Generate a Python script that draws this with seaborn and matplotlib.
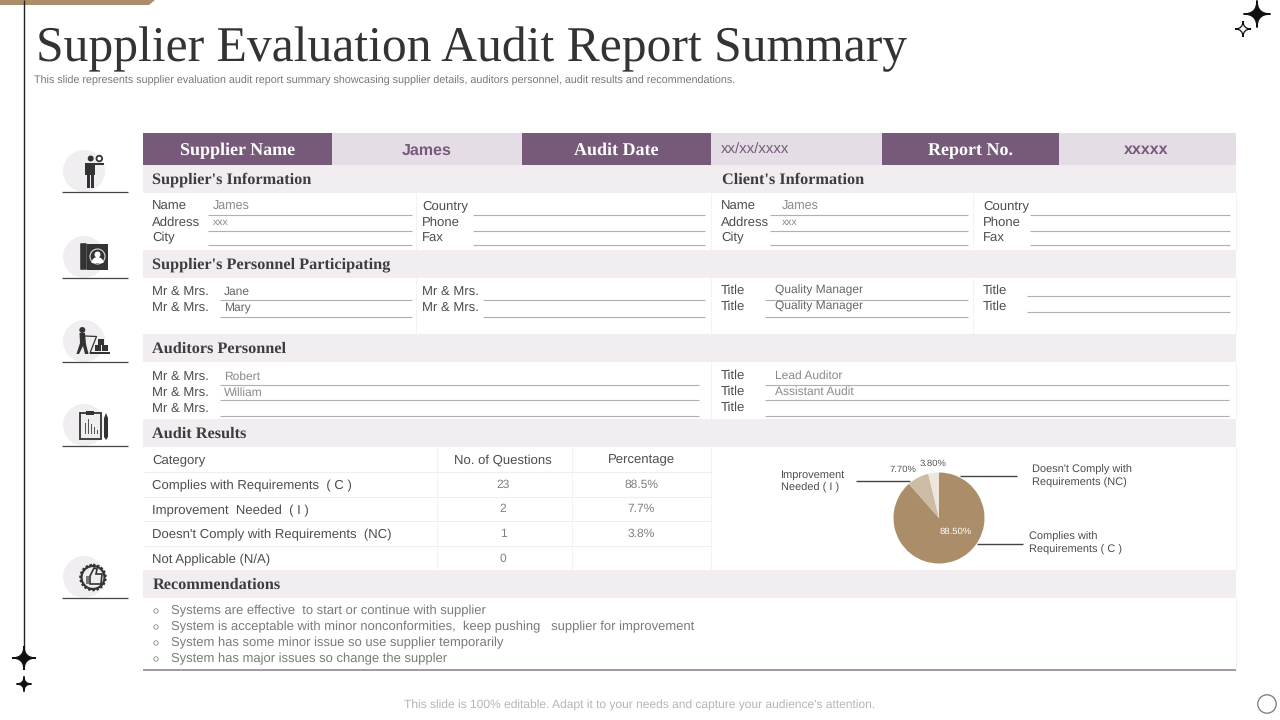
"""
Supplier evaluation audit report slide
"""
import matplotlib
matplotlib.use('Agg')
import matplotlib.pyplot as plt
from matplotlib.patches import Circle, Polygon, Rectangle, PathPatch, FancyBboxPatch, Wedge
from matplotlib.path import Path
import seaborn as sns

# Data
title = 'Supplier Evaluation Audit Report Summary'
subtitle = ('This slide represents supplier evaluation audit report summary showcasing supplier details, '
            'auditors personnel, audit results and recommendations.')
footer = "This slide is 100% editable. Adapt it to your needs and capture your audience's attention."

header_labels = ['Supplier Name', 'Audit Date', 'Report No.']
header_values = ['James', 'xx/xx/xxxx', 'xxxxx']

info_left = ['Name', 'Address', 'City']
info_left_values = ['James', 'xxx', '']
info_right = ['Country', 'Phone', 'Fax']
client_values = ['James', 'xxx', '']
personnel_names = ['Jane', 'Mary']
personnel_titles = ['Quality Manager', 'Quality Manager']
auditor_names = ['Robert', 'William', '']
auditor_titles = ['Lead Auditor', 'Assistant Audit', '']

table_columns = ['Category', 'No. of Questions', 'Percentage']
categories = ['Complies with Requirements  ( C )', 'Improvement  Needed  ( I )',
              "Doesn't Comply with Requirements  (NC)", 'Not Applicable (N/A)']
questions = [23, 2, 1, 0]
percentages = ['88.5%', '7.7%', '3.8%', '']

pie_values = [88.5, 7.7, 3.8]
pie_labels = ['88.50%', '7.70%', '3.80%']

recommendations = [
    'Systems are effective  to start or continue with supplier',
    'System is acceptable with minor nonconformities,  keep pushing   supplier for improvement',
    'System has some minor issue so use supplier temporarily',
    'System has major issues so change the suppler',
]

PURPLE = '#775a7a'
LIGHT = '#e4dde5'
BAND = '#f1edf1'
TAN = '#ab8d69'
DARK = '#333333'
SANS = 'Liberation Sans'
SERIF = 'Liberation Serif'

sns.set_theme(style='white')
plt.rcParams['font.family'] = [SANS, 'DejaVu Sans']
plt.rcParams['text.hinting'] = 'no_hinting'

fig = plt.figure(figsize=(12.8, 7.2), dpi=100)
ax = fig.add_axes([0, 0, 1, 1])
ax.set_xlim(0, 1280)
ax.set_ylim(720, 0)
ax.axis('off')


def px(size):
    # font size given in pixels
    return size * 0.72


def rect(x0, y0, x1, y1, color, z=1):
    ax.add_patch(Rectangle((x0, y0), x1 - x0, y1 - y0, facecolor=color, edgecolor='none', zorder=z))


def hline(x0, x1, y, color='#b0b0b0', lw=0.8):
    ax.plot([x0, x1], [y, y], color=color, lw=lw, solid_capstyle='butt', zorder=2)


def vline(x, y0, y1, color='#f4f2f4', lw=0.8):
    ax.plot([x, x], [y0, y1], color=color, lw=lw, solid_capstyle='butt', zorder=2)


def label(x, y, s, size=13.1, color='#4d4d4d', ha='left', **kw):
    ax.text(x, y + 1.3, s, fontsize=px(size), color=color, ha=ha, va='center', zorder=4, **kw)


def heading(x, y, s):
    ax.text(x, y + 1.5, s, fontsize=px(16.2), color='#3d3d3d', family=SERIF, weight='bold',
            ha='left', va='center', zorder=4)


def dot(x, y, r, color=DARK, z=3):
    ax.add_patch(Circle((x, y), r, facecolor=color, edgecolor='none', zorder=z))


def star(x, y, r, fill=True, color='#111111'):
    verts, codes = [(x, y - r)], [Path.MOVETO]
    for tip in [(x + r, y), (x, y + r), (x - r, y), (x, y - r)]:
        verts += [(x, y), tip]
        codes += [Path.CURVE3, Path.CURVE3]
    ax.add_patch(PathPatch(Path(verts, codes), facecolor=color if fill else 'white',
                           edgecolor=color, lw=0.9, zorder=5))


# Slide decoration
ax.add_patch(Polygon([(0, 0), (155, 0), (149, 5), (0, 5)], facecolor=TAN, edgecolor='none'))
vline(24, 0, 652, color='#222222', lw=1.0)
star(24, 658, 12)
star(24, 684, 7.5)
star(1257, 14, 13.5)
star(1243, 29, 8, fill=False)
ax.add_patch(Circle((1267, 704), 9.2, facecolor='white', edgecolor='#777777', lw=0.9))

ax.text(36, 49, title, fontsize=px(49.6), color=DARK, family=SERIF, ha='left', va='center')
label(34, 80, subtitle, size=10.7, color='#777777')
label(640, 704, footer, size=12.05, color='#b5b5b5', ha='center')

# Header row
cell_edges = [143, 332, 522, 711, 882, 1059, 1236]
for i in range(3):
    rect(cell_edges[2 * i], 133, cell_edges[2 * i + 1], 165, PURPLE)
    rect(cell_edges[2 * i + 1], 133, cell_edges[2 * i + 2], 165, LIGHT)
    ax.text((cell_edges[2 * i] + cell_edges[2 * i + 1]) / 2, 150.5, header_labels[i], fontsize=px(18),
            color='white', family=SERIF, weight='bold', ha='center', va='center', zorder=4)
label(427, 149, header_values[0], size=16, color=PURPLE, ha='center', weight='bold')
label(721, 149, header_values[1], size=15, color=PURPLE)
label(1146, 149, header_values[2], size=16, color=PURPLE, ha='center', weight='bold')

# Section bands
for y0, y1 in [(165, 193), (250, 278), (334, 362), (419, 447), (570, 598)]:
    rect(143, y0, 1236, y1, BAND)
heading(152.5, 178, "Supplier's Information")
heading(722, 178, "Client's Information")
heading(152.5, 263, "Supplier's Personnel Participating")
heading(152.5, 347, 'Auditors Personnel')
heading(152.5, 432, 'Audit Results')
heading(152.5, 583, 'Recommendations')

# Faint table grid, only between the bands
for y0, y1 in [(193, 250), (278, 334), (362, 419), (447, 570)]:
    vline(711, y0, y1)
for y0, y1 in [(193, 250), (278, 334)]:
    vline(416, y0, y1)
    vline(973, y0, y1)
for y0, y1 in [(193, 250), (278, 334), (362, 419), (447, 570), (598, 669)]:
    vline(1236, y0, y1)

# Supplier / client information
rows = [205, 221, 237]
lines = [214.5, 230.5, 245]
for i in range(3):
    label(152, rows[i], info_left[i])
    label(422, rows[i], info_right[i])
    label(721, rows[i], info_left[i])
    label(983, rows[i], info_right[i])
    hline(208, 412, lines[i])
    hline(473, 705, lines[i])
    hline(770, 968, lines[i])
    hline(1030, 1230, lines[i])
    label(213, rows[i], info_left_values[i], size=12.5 if i == 0 else 10.5, color='#8a8a8a')
    label(782, rows[i], client_values[i], size=12.5 if i == 0 else 10.5, color='#8a8a8a')

# Supplier's personnel
rows = [290, 306]
for i in range(2):
    label(152, rows[i], 'Mr & Mrs.')
    label(422, rows[i], 'Mr & Mrs.')
    label(721, rows[i] - 1, 'Title')
    label(983, rows[i] - 1, 'Title')
    hline(220, 412, [299.5, 316.5][i])
    hline(483, 705, [299.5, 316.5][i])
    hline(765, 968, [299.5, 316.5][i])
    hline(1027, 1230, [295.5, 312][i])
    label(224, rows[i], personnel_names[i], size=12, color='#666666')
    label(775, rows[i] - 1, personnel_titles[i], size=12, color='#666666')

# Auditors
rows = [375, 391, 407]
for i in range(3):
    label(152, rows[i], 'Mr & Mrs.')
    label(721, rows[i] - 1, 'Title')
    hline(220, 699, [385, 400, 415.5][i])
    hline(765, 1229, [384.5, 400, 415.5][i])
    label(224, rows[i], auditor_names[i], size=12, color='#8a8a8a')
    label(775, rows[i] - 1, auditor_titles[i], size=12, color='#8a8a8a')

# Audit results table
row_edges = [447, 472, 497, 521, 546, 570]
for y in row_edges[1:-1]:
    hline(143, 711, y, color='#f0edf0', lw=0.8)
vline(437, 447, 570)
vline(572, 447, 570)
label(152, 459, table_columns[0])
label(503, 459, table_columns[1], ha='center')
label(641, 459, table_columns[2], ha='center')
for i in range(4):
    y = (row_edges[i + 1] + row_edges[i + 2]) / 2 + 0.5
    label(152, y, categories[i])
    label(503, y - 1.5, str(questions[i]), size=12, color='#808080', ha='center')
    label(641, y - 1.5, percentages[i], size=12, color='#808080', ha='center')

# Pie chart, in its own axes
pie_ax = fig.add_axes([(939 - 45.5) / 1280, 1 - (518 + 45.5) / 720, 91 / 1280, 91 / 720])
wedges, _ = pie_ax.pie(pie_values, colors=sns.color_palette([TAN, '#cdbba6', '#ede6dd']),
                       startangle=90, counterclock=False, radius=1.0,
                       wedgeprops={'linewidth': 0})
pie_ax.set_xlim(-1, 1)
pie_ax.set_ylim(-1, 1)
label(956, 530, pie_labels[0], size=9.5, color='white', ha='center')
label(903, 468, pie_labels[1], size=9.5, ha='center', color='#555555')
label(933, 462.5, pie_labels[2], size=9.5, ha='center', color='#555555')
ax.set_zorder(3)
ax.patch.set_alpha(0)
hline(856, 910, 481, color='#444444', lw=1)
hline(960, 1017, 476, color='#444444', lw=1)
hline(977, 1023, 544, color='#444444', lw=1)
label(781, 473.5, 'Improvement', size=11)
label(781, 486.5, 'Needed ( I )', size=11)
label(1032, 468.5, "Doesn't Comply with", size=11)
label(1032, 481.5, 'Requirements (NC)', size=11)
label(1029, 535.5, 'Complies with', size=11)
label(1029, 548.5, 'Requirements ( C )', size=11)

# Recommendations
for i, rec in enumerate(recommendations):
    y = 610 + 16 * i
    ax.add_patch(Circle((156, y + 1), 2.2, facecolor='white', edgecolor='#999999', lw=0.7, zorder=4))
    label(171, y, rec, size=13.02, color='#7a7a7a')
hline(143, 1236, 669.5, color='#8c7a8e', lw=1.1)

# Left side icons
icon_rows = [171, 257, 341, 425, 577]
for y in icon_rows:
    dot(84, y, 21, color='#f0eef0', z=1)
    hline(62, 128, y + 21, color='#444444', lw=0.9)

# person with speech bubble
y = icon_rows[0]
dot(90.7, y - 12.5, 3)
ax.add_patch(Circle((99.3, y - 12.5), 2.8, facecolor='white', edgecolor=DARK, lw=1.3, zorder=3))
rect(85, y - 8.5, 104, y - 6, DARK, 3)
rect(85, y - 8, 95, y + 4, DARK, 3)
rect(87, y + 3, 90.2, y + 16.5, DARK, 3)
rect(91, y + 3, 94.2, y + 16.5, DARK, 3)

# contact book
y = icon_rows[1]
ax.add_patch(FancyBboxPatch((81, y - 13), 5, 25, boxstyle='round,pad=0.8', facecolor=DARK, edgecolor='none', zorder=3))
rect(87, y - 13, 108, y + 13, DARK, 3)
ax.add_patch(Circle((97.5, y - 0.5), 7.5, facecolor=DARK, edgecolor='#dddddd', lw=0.8, zorder=4))
dot(97.5, y - 2.5, 3, color='white', z=5)
ax.add_patch(Wedge((97.5, y + 6), 6, 180, 360, facecolor='white', edgecolor='none', zorder=5))

# person with cart and boxes
y = icon_rows[2]
dot(82.3, y - 11, 3)
ax.add_patch(Polygon([(79.5, y - 8), (85, y - 8), (86, y + 3), (88.5, y + 13), (85, y + 13),
                      (83, y + 5), (79, y + 13), (76.5, y + 13), (80, y + 2)],
                     facecolor=DARK, edgecolor='none', zorder=3))
ax.plot([85, 96.5, 90], [y - 5, y - 4.5, y + 12], color=DARK, lw=0.9, zorder=3)
for bx, by in [(100.7, y + 0.7), (97.7, y + 7.3), (105, y + 7.3)]:
    rect(bx - 3, by - 3, bx + 3, by + 3, DARK, 3)
rect(90, y + 11, 110, y + 12.5, DARK, 3)

# clipboard with bars and pencil
y = icon_rows[3]
ax.add_patch(Rectangle((80, y - 12), 20.5, 26, facecolor='#eeeeee', edgecolor=DARK, lw=1.3, zorder=3))
rect(86, y - 14.5, 94, y - 10.5, DARK, 3)
for bx, h in zip([84.5, 87.5, 90.5, 93.5, 96.5], [11, 15, 10, 7, 4]):
    rect(bx, y + 9 - h, bx + 1.6, y + 9, '#555555', 4)
rect(104, y - 7, 108, y + 12, DARK, 3)
ax.add_patch(Polygon([(104, y - 7), (106, y - 12), (108, y - 7)], facecolor=DARK, edgecolor='none', zorder=3))
ax.add_patch(Polygon([(104, y + 12), (106, y + 15), (108, y + 12)], facecolor=DARK, edgecolor='none', zorder=3))

# thumbs up badge
y = icon_rows[4]
ax.add_patch(Circle((93, y + 0.5), 11.5, facecolor='#eeeeee', edgecolor=DARK, lw=1.6, zorder=3))
ax.add_patch(Circle((93, y + 0.5), 12.8, facecolor='none', edgecolor=DARK, lw=1.4,
                    ls=(0, (1.2, 1.0)), zorder=3))
ax.add_patch(Polygon([(90, y - 1), (94, y - 9), (97, y - 8), (96, y - 3), (102, y - 3), (101, y + 7), (90, y + 7)],
                     facecolor='#eeeeee', edgecolor=DARK, lw=1.2, zorder=4))
rect(85.5, y - 1, 89, y + 7, '#777777', 4)

fig.savefig('out.png', dpi=100, facecolor='white')
